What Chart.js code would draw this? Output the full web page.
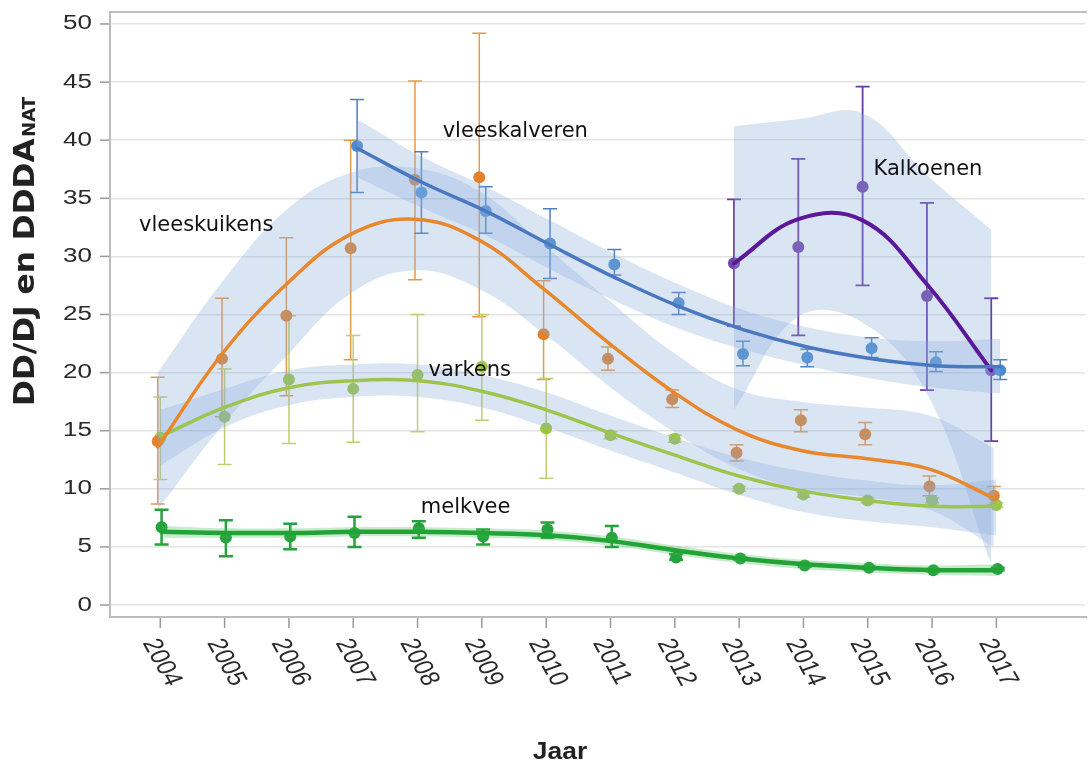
<!DOCTYPE html>
<html><head><meta charset="utf-8">
<script src="https://cdn.jsdelivr.net/npm/chart.js@4.4.1/dist/chart.umd.min.js"></script>
<style>html,body{margin:0;padding:0;background:#fff;}#wrap{width:1091px;height:767px;position:relative;}</style>
</head><body><div id="wrap"><canvas id="c"></canvas></div>
<script>
// ---------- DATA ----------
const years = [2004,2005,2006,2007,2008,2009,2010,2011,2012,2013,2014,2015,2016,2017];
const xTickLabels = ['2004','2005','2006','2007','2008','2009','2010','2011','2012','2013','2014','2015','2016','2017'];
const yTicks = [0,5,10,15,20,25,30,35,40,45,50];

// vleeskalveren
const kalvYears  = [2007,2008,2009,2010,2011,2012,2013,2014,2015,2016,2017];
const kalvVal    = [39.5,35.5,33.9,31.1,29.3,26.0,21.6,21.3,22.1,20.9,20.2];
const kalvLo     = [35.5,32.0,32.0,28.1,28.4,25.0,20.6,20.5,21.3,20.1,19.4];
const kalvHi     = [43.5,39.0,36.0,34.1,30.6,26.9,22.7,22.0,23.0,21.8,21.1];
const kalvFit    = [39.3,36.4,33.9,31.0,28.2,25.7,23.7,22.2,21.2,20.6,20.5];
const kalvBandHi = [41.8,38.6,36.0,33.1,30.2,27.6,25.4,23.9,23.0,22.7,22.9];
const kalvBandLo = [36.8,34.2,31.8,28.9,26.2,23.8,22.0,20.6,19.5,18.7,18.2];

// vleeskuikens
const kuikYears  = years;
const kuikVal    = [14.1,21.2,24.9,30.7,36.6,36.8,23.3,21.2,17.7,13.1,15.9,14.7,10.2,9.4];
const kuikLo     = [8.7,16.2,18.0,21.1,28.0,24.8,19.4,20.2,17.0,12.4,14.9,13.8,9.4,8.6];
const kuikHi     = [19.6,26.4,31.6,40.0,45.1,49.2,27.9,22.2,18.5,13.8,16.8,15.7,11.1,10.2];
const kuikFit    = [13.6,21.6,27.6,31.9,33.2,31.4,27.2,22.6,18.4,15.1,13.3,12.6,11.7,9.2];
const kuikBandHi = [20.0,27.8,34.0,37.2,37.6,35.6,31.0,26.3,21.8,18.6,17.5,17.0,16.3,13.5];
const kuikBandLo = [8.2,15.4,21.4,26.8,28.8,27.2,23.4,18.9,15.0,11.8,10.0,9.3,8.2,5.0];

// varkens
const varkYears  = years;
const varkVal    = [14.4,16.2,19.4,18.6,19.8,20.5,15.2,14.6,14.3,10.0,9.5,9.0,9.0,8.6];
const varkLo     = [10.8,12.1,13.9,14.0,14.9,15.9,10.9,14.3,14.0,9.8,9.3,8.8,8.8,8.4];
const varkHi     = [17.9,20.3,24.9,23.2,25.0,25.0,19.5,14.9,14.6,10.2,9.7,9.2,9.2,8.8];
const varkFit    = [14.5,17.0,18.7,19.3,19.3,18.4,16.8,14.8,12.9,11.1,9.8,9.0,8.5,8.5];
const varkBandHi = [16.8,18.6,20.2,20.7,20.7,19.8,18.3,16.3,14.4,12.7,11.5,10.7,10.3,10.8];
const varkBandLo = [12.0,15.3,17.2,17.9,17.9,17.0,15.3,13.3,11.4,9.5,8.0,7.2,6.7,6.0];

// melkvee
const melkYears  = years;
const melkVal    = [6.7,5.8,5.9,6.2,6.6,5.9,6.5,5.8,4.1,4.0,3.4,3.2,3.0,3.1];
const melkLo     = [5.2,4.2,4.8,5.0,5.8,5.2,5.8,5.0,3.9,3.9,3.3,3.1,2.9,3.0];
const melkHi     = [8.2,7.3,7.0,7.6,7.2,6.5,7.1,6.8,4.4,4.1,3.5,3.3,3.1,3.2];
const melkFit    = [6.3,6.2,6.2,6.3,6.3,6.2,6.0,5.5,4.7,4.0,3.5,3.2,3.0,3.0];
const melkBandHi = [6.8,6.6,6.6,6.7,6.7,6.6,6.4,5.9,5.1,4.4,3.9,3.6,3.4,3.5];
const melkBandLo = [5.8,5.8,5.8,5.9,5.9,5.8,5.6,5.1,4.3,3.6,3.1,2.8,2.6,2.5];

// kalkoenen
const kalkYears  = [2013,2014,2015,2016,2017];
const kalkVal    = [29.4,30.8,36.0,26.6,20.2];
const kalkLo     = [24.0,23.2,27.5,18.5,14.1];
const kalkHi     = [34.9,38.4,44.6,34.6,26.4];
const kalkFit    = [29.4,33.2,33.1,27.6,20.2];
const kalkBandHi = [41.2,41.8,42.3,37.0,32.3];
const kalkBandLo = [16.8,24.8,24.3,18.2,3.5];

// text labels
const seriesLabels = ['vleeskuikens','vleeskalveren','varkens','melkvee','Kalkoenen'];
const labelX = [2003.67,2008.39,2008.17,2008.05,2015.09];
const labelY = [32.2,40.3,19.7,7.9,37.0];
const yTitle = 'DD/DJ en DDDA';
const yTitleSub = 'NAT';
const xTitle = 'Jaar';

// ---------- BUILD ----------
const BAND = 'rgba(135,170,220,0.31)';
const series = [
  {xs:kuikYears,val:kuikVal,lo:kuikLo,hi:kuikHi,fit:kuikFit,bHi:kuikBandHi,bLo:kuikBandLo,dx:-0.04,line:'#e8872b',lw:3.5,pt:'#e3822e',eb:'#e49a4c',ebw:1.5,band:BAND},
  {xs:varkYears,val:varkVal,lo:varkLo,hi:varkHi,fit:varkFit,bHi:varkBandHi,bLo:varkBandLo,dx:0,line:'#9dc44d',lw:3.5,pt:'#9fc640',eb:'#c4cc70',ebw:1.5,band:BAND},
  {xs:melkYears,val:melkVal,lo:melkLo,hi:melkHi,fit:melkFit,bHi:melkBandHi,bLo:melkBandLo,dx:0.02,line:'#21a336',lw:4.5,pt:'#25a23b',eb:'#25a23b',ebw:2.5,band:'rgba(70,185,90,0.3)'},
  {xs:kalvYears,val:kalvVal,lo:kalvLo,hi:kalvHi,fit:kalvFit,bHi:kalvBandHi,bLo:kalvBandLo,dx:0.06,line:'#4a78c0',lw:3.5,pt:'#4b8bd0',eb:'#4e7fc0',ebw:1.5,band:BAND},
  {xs:kalkYears,val:kalkVal,lo:kalkLo,hi:kalkHi,fit:kalkFit,bHi:kalkBandHi,bLo:kalkBandLo,dx:-0.08,line:'#5b1899',lw:4,pt:'#7442ac',eb:'#6a3aa6',ebw:1.8,band:BAND}
];
const pts = (xs, ys, dx) => xs.map((x,i)=>({x:x+dx, y:ys[i]}));

const datasets = [];
series.forEach(s=>{
  datasets.push({data:pts(s.xs,s.val,s.dx),showLine:false,pointRadius:6,pointHoverRadius:6,pointBackgroundColor:s.pt,pointBorderWidth:0,order:30});
  datasets.push({data:pts(s.xs,s.bHi,s.dx),borderWidth:0,pointRadius:0,fill:'+1',backgroundColor:s.band,tension:0.4,order:20});
  datasets.push({data:pts(s.xs,s.bLo,s.dx),borderWidth:0,pointRadius:0,fill:false,tension:0.4,order:20});
  datasets.push({data:pts(s.xs,s.fit,s.dx),borderColor:s.line,borderWidth:s.lw,pointRadius:0,fill:false,tension:0.4,order:10,borderCapStyle:'round',borderJoinStyle:'round'});
});

const decor = {
  id:'decor',
  beforeDatasetsDraw(chart){
    const {ctx, chartArea:a, scales:{x,y}} = chart;
    ctx.save();
    ctx.strokeStyle='#9a9a9a'; ctx.lineWidth=1.5;
    yTicks.forEach(v=>{const py=y.getPixelForValue(v);ctx.beginPath();ctx.moveTo(a.left-10,py);ctx.lineTo(a.left,py);ctx.stroke();});
    years.forEach(v=>{const px=x.getPixelForValue(v);ctx.beginPath();ctx.moveTo(px,a.bottom);ctx.lineTo(px,a.bottom+11);ctx.stroke();});
    ctx.strokeStyle='#bdbdbd'; ctx.lineWidth=2;
    ctx.beginPath();
    ctx.moveTo(a.right+2,a.top);ctx.lineTo(a.left,a.top);ctx.lineTo(a.left,a.bottom);ctx.lineTo(a.right+2,a.bottom);
    ctx.stroke();
    series.forEach(s=>{
      ctx.strokeStyle=s.eb; ctx.lineWidth=s.ebw;
      s.xs.forEach((yr,i)=>{
        const px=x.getPixelForValue(yr+s.dx), p1=y.getPixelForValue(s.lo[i]), p2=y.getPixelForValue(s.hi[i]);
        ctx.beginPath();
        ctx.moveTo(px,p1);ctx.lineTo(px,p2);
        ctx.moveTo(px-7,p1);ctx.lineTo(px+7,p1);
        ctx.moveTo(px-7,p2);ctx.lineTo(px+7,p2);
        ctx.stroke();
      });
    });
    ctx.restore();
  },
  afterDraw(chart){
    const {ctx, chartArea:a, scales:{x,y}} = chart;
    ctx.save();
    // y tick labels
    ctx.fillStyle='#2a2a2a';
    yTicks.forEach(v=>{
      ctx.save();ctx.translate(a.left-18,y.getPixelForValue(v));ctx.scale(1.3,1);
      ctx.font="20px 'Liberation Sans', Arial, sans-serif";ctx.textAlign='right';ctx.textBaseline='middle';
      ctx.fillText(String(v),0,0);ctx.restore();
    });
    // x tick labels (rotated clockwise)
    years.forEach((v,i)=>{
      ctx.save();ctx.translate(x.getPixelForValue(v)-11,a.bottom+23);ctx.scale(1.25,1);ctx.rotate(66*Math.PI/180);
      ctx.font="22px 'Liberation Sans', Arial, sans-serif";ctx.textAlign='left';ctx.textBaseline='middle';
      ctx.fillText(xTickLabels[i],0,0);ctx.restore();
    });
    // y title with subscript
    ctx.save();
    ctx.translate(34,252);ctx.rotate(-Math.PI/2);ctx.scale(1.3,1.2);
    ctx.fillStyle='#222';
    ctx.font="bold 24px 'DejaVu Sans', sans-serif";
    const w1=ctx.measureText(yTitle).width;
    ctx.font="bold 14px 'DejaVu Sans', sans-serif";
    const w2=ctx.measureText(yTitleSub).width;
    const start=-(w1+w2)/2;
    ctx.textAlign='left';ctx.textBaseline='alphabetic';
    ctx.font="bold 24px 'DejaVu Sans', sans-serif";
    ctx.fillText(yTitle,start,0);
    ctx.font="bold 14px 'DejaVu Sans', sans-serif";
    ctx.fillText(yTitleSub,start+w1+1,1);
    ctx.restore();
    // x title
    ctx.save();ctx.translate(560,759);ctx.scale(1.1,1);
    ctx.fillStyle='#222';ctx.font="bold 24px 'Liberation Sans', Arial, sans-serif";ctx.textAlign='center';ctx.textBaseline='alphabetic';
    ctx.fillText(xTitle,0,0);ctx.restore();
    // series labels
    ctx.fillStyle='#111';ctx.font="21px 'DejaVu Sans', sans-serif";ctx.textAlign='left';ctx.textBaseline='alphabetic';
    seriesLabels.forEach((t,i)=>{ctx.fillText(t,x.getPixelForValue(labelX[i]),y.getPixelForValue(labelY[i]));});
    ctx.restore();
  }
};

new Chart(document.getElementById('c'),{
  type:'line',
  data:{datasets},
  options:{
    responsive:true,maintainAspectRatio:false,animation:false,
    layout:{padding:{top:12,right:2,left:0,bottom:0}},
    plugins:{legend:{display:false},tooltip:{enabled:false}},
    scales:{
      x:{type:'linear',min:2003.218,max:2018.378,
        afterBuildTicks:s=>{s.ticks=years.map(v=>({value:v}));},
        afterFit:s=>{s.height=150;},
        grid:{display:false},border:{display:false},ticks:{display:false}},
      y:{type:'linear',min:-1.03,max:51.03,
        afterBuildTicks:s=>{s.ticks=yTicks.map(v=>({value:v}));},
        afterFit:s=>{s.width=110;},
        grid:{color:'#e4e4e4',lineWidth:1.5,drawTicks:false},border:{display:false},ticks:{display:false}}
    }
  },
  plugins:[decor]
});
</script></body></html>
